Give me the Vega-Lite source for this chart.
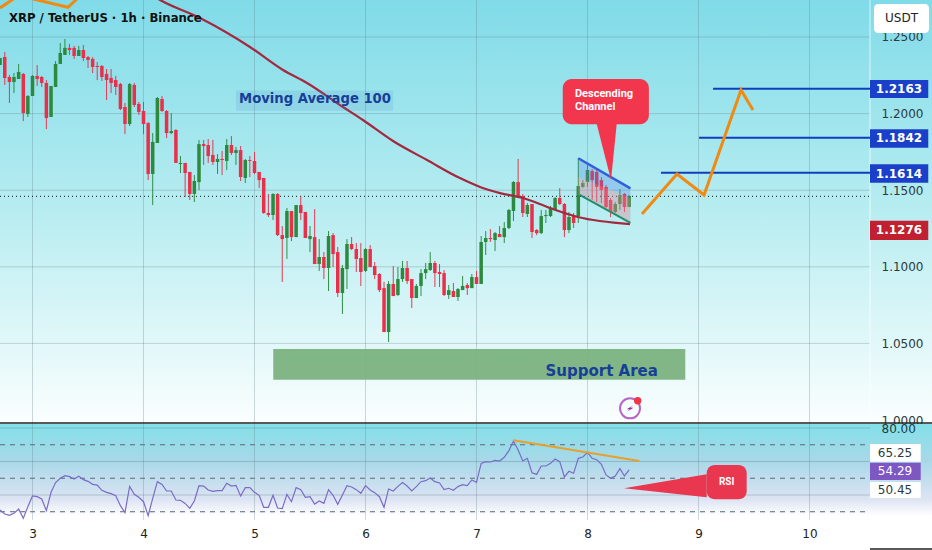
{
  "$schema": "https://vega.github.io/schema/vega-lite/v6.json",
  "padding": 0,
  "background": "#ffffff",
  "spacing": 0,
  "bounds": "flush",
  "resolve": {"scale": {"color": "independent"}},
  "config": {
    "font": "DejaVu Sans",
    "view": {"stroke": null},
    "axis": {"labelFont": "DejaVu Sans", "title": null}
  },
  "datasets": {
    "candles": [
      {"day":2.708,"o":1.2317,"h":1.2363,"l":1.2317,"c":1.2363},
      {"day":2.75,"o":1.2369,"h":1.2402,"l":1.2187,"c":1.2233},
      {"day":2.792,"o":1.2239,"h":1.2252,"l":1.2069,"c":1.2206},
      {"day":2.833,"o":1.2206,"h":1.2265,"l":1.2134,"c":1.2239},
      {"day":2.875,"o":1.2226,"h":1.2324,"l":1.2226,"c":1.2272},
      {"day":2.917,"o":1.2259,"h":1.2265,"l":1.1951,"c":1.2004},
      {"day":2.958,"o":1.1997,"h":1.2121,"l":1.1978,"c":1.2115},
      {"day":3,"o":1.2115,"h":1.2252,"l":1.2115,"c":1.2246},
      {"day":3.042,"o":1.2246,"h":1.2317,"l":1.218,"c":1.2226},
      {"day":3.083,"o":1.2239,"h":1.2246,"l":1.2174,"c":1.22},
      {"day":3.125,"o":1.22,"h":1.2219,"l":1.1899,"c":1.1971},
      {"day":3.167,"o":1.1978,"h":1.218,"l":1.1978,"c":1.218},
      {"day":3.208,"o":1.2174,"h":1.2343,"l":1.2174,"c":1.2324},
      {"day":3.25,"o":1.2324,"h":1.2461,"l":1.2324,"c":1.2396},
      {"day":3.292,"o":1.2383,"h":1.2487,"l":1.2383,"c":1.2429},
      {"day":3.333,"o":1.2429,"h":1.2455,"l":1.2383,"c":1.2415},
      {"day":3.375,"o":1.2429,"h":1.2442,"l":1.2357,"c":1.2376},
      {"day":3.417,"o":1.2376,"h":1.2442,"l":1.2376,"c":1.2415},
      {"day":3.458,"o":1.2415,"h":1.2448,"l":1.2343,"c":1.2363},
      {"day":3.5,"o":1.2369,"h":1.2376,"l":1.2298,"c":1.235},
      {"day":3.542,"o":1.2357,"h":1.2369,"l":1.2265,"c":1.2304},
      {"day":3.583,"o":1.2311,"h":1.2337,"l":1.2219,"c":1.2304},
      {"day":3.625,"o":1.2311,"h":1.2317,"l":1.2213,"c":1.2239},
      {"day":3.667,"o":1.2259,"h":1.2291,"l":1.2089,"c":1.2219},
      {"day":3.708,"o":1.2233,"h":1.2291,"l":1.2134,"c":1.22},
      {"day":3.75,"o":1.2219,"h":1.2246,"l":1.2121,"c":1.2174},
      {"day":3.792,"o":1.2193,"h":1.22,"l":1.2023,"c":1.203},
      {"day":3.833,"o":1.2043,"h":1.2069,"l":1.1866,"c":1.1932},
      {"day":3.875,"o":1.1932,"h":1.22,"l":1.1919,"c":1.2193},
      {"day":3.917,"o":1.2187,"h":1.22,"l":1.2043,"c":1.2056},
      {"day":3.958,"o":1.2063,"h":1.2076,"l":1.1991,"c":1.2011},
      {"day":4,"o":1.2017,"h":1.2076,"l":1.1866,"c":1.1932},
      {"day":4.042,"o":1.1938,"h":1.1945,"l":1.1566,"c":1.1606},
      {"day":4.083,"o":1.1606,"h":1.1873,"l":1.1403,"c":1.1815},
      {"day":4.125,"o":1.1808,"h":1.2108,"l":1.1808,"c":1.2102},
      {"day":4.167,"o":1.2095,"h":1.2115,"l":1.2011,"c":1.2017},
      {"day":4.208,"o":1.2017,"h":1.2023,"l":1.184,"c":1.1873},
      {"day":4.25,"o":1.1873,"h":1.2004,"l":1.1866,"c":1.1886},
      {"day":4.292,"o":1.1893,"h":1.1899,"l":1.1678,"c":1.1678},
      {"day":4.333,"o":1.1671,"h":1.1723,"l":1.1612,"c":1.1678},
      {"day":4.375,"o":1.1678,"h":1.1678,"l":1.1455,"c":1.1612},
      {"day":4.417,"o":1.1619,"h":1.1619,"l":1.1436,"c":1.1475},
      {"day":4.458,"o":1.1475,"h":1.1599,"l":1.1423,"c":1.156},
      {"day":4.5,"o":1.1553,"h":1.1828,"l":1.1501,"c":1.1801},
      {"day":4.542,"o":1.1801,"h":1.1828,"l":1.1665,"c":1.1788},
      {"day":4.583,"o":1.1795,"h":1.1834,"l":1.1678,"c":1.1723},
      {"day":4.625,"o":1.173,"h":1.1828,"l":1.1665,"c":1.1684},
      {"day":4.667,"o":1.1684,"h":1.1736,"l":1.1606,"c":1.1704},
      {"day":4.708,"o":1.1704,"h":1.1756,"l":1.1599,"c":1.1697},
      {"day":4.75,"o":1.1691,"h":1.1834,"l":1.1632,"c":1.1795},
      {"day":4.792,"o":1.1795,"h":1.1853,"l":1.173,"c":1.1743},
      {"day":4.833,"o":1.1743,"h":1.1782,"l":1.1665,"c":1.1762},
      {"day":4.875,"o":1.1762,"h":1.1788,"l":1.156,"c":1.1586},
      {"day":4.917,"o":1.158,"h":1.1704,"l":1.1547,"c":1.1697},
      {"day":4.958,"o":1.1697,"h":1.1723,"l":1.1586,"c":1.1691},
      {"day":5,"o":1.1691,"h":1.1749,"l":1.1606,"c":1.1612},
      {"day":5.042,"o":1.1619,"h":1.1619,"l":1.1514,"c":1.1566},
      {"day":5.083,"o":1.158,"h":1.158,"l":1.1345,"c":1.1351},
      {"day":5.125,"o":1.1351,"h":1.1475,"l":1.1325,"c":1.1338},
      {"day":5.167,"o":1.1338,"h":1.1481,"l":1.1305,"c":1.1475},
      {"day":5.208,"o":1.1475,"h":1.1481,"l":1.1201,"c":1.1207},
      {"day":5.25,"o":1.1207,"h":1.1266,"l":1.0901,"c":1.1181},
      {"day":5.292,"o":1.1188,"h":1.1384,"l":1.1051,"c":1.1364},
      {"day":5.333,"o":1.1364,"h":1.1364,"l":1.1168,"c":1.1194},
      {"day":5.375,"o":1.1194,"h":1.1403,"l":1.1194,"c":1.1403},
      {"day":5.417,"o":1.1403,"h":1.1462,"l":1.1305,"c":1.1351},
      {"day":5.458,"o":1.1358,"h":1.1358,"l":1.1188,"c":1.1188},
      {"day":5.5,"o":1.1181,"h":1.1266,"l":1.1096,"c":1.1201},
      {"day":5.542,"o":1.1194,"h":1.1377,"l":1.1018,"c":1.1018},
      {"day":5.583,"o":1.1018,"h":1.1181,"l":1.0973,"c":1.1064},
      {"day":5.625,"o":1.1064,"h":1.1096,"l":1.092,"c":1.0992},
      {"day":5.667,"o":1.0992,"h":1.1233,"l":1.0842,"c":1.1201},
      {"day":5.708,"o":1.1207,"h":1.122,"l":1.0998,"c":1.1083},
      {"day":5.75,"o":1.1096,"h":1.1129,"l":1.0803,"c":1.0829},
      {"day":5.792,"o":1.0829,"h":1.1012,"l":1.0692,"c":1.0992},
      {"day":5.833,"o":1.0985,"h":1.1181,"l":1.0855,"c":1.1149},
      {"day":5.875,"o":1.1149,"h":1.1194,"l":1.1109,"c":1.1116},
      {"day":5.917,"o":1.1116,"h":1.1155,"l":1.0966,"c":1.1051},
      {"day":5.958,"o":1.1057,"h":1.1155,"l":1.0875,"c":1.0966},
      {"day":6,"o":1.0973,"h":1.1122,"l":1.0966,"c":1.1116},
      {"day":6.042,"o":1.1116,"h":1.1142,"l":1.0998,"c":1.0998},
      {"day":6.083,"o":1.1005,"h":1.1031,"l":1.092,"c":1.0946},
      {"day":6.125,"o":1.0953,"h":1.0959,"l":1.0835,"c":1.0848},
      {"day":6.167,"o":1.0861,"h":1.0901,"l":1.0574,"c":1.0574},
      {"day":6.208,"o":1.0574,"h":1.0907,"l":1.0509,"c":1.0888},
      {"day":6.25,"o":1.0888,"h":1.1005,"l":1.0809,"c":1.0809},
      {"day":6.292,"o":1.0816,"h":1.0998,"l":1.0809,"c":1.092},
      {"day":6.333,"o":1.092,"h":1.1038,"l":1.0901,"c":1.0992},
      {"day":6.375,"o":1.0992,"h":1.1038,"l":1.0888,"c":1.0907},
      {"day":6.417,"o":1.092,"h":1.092,"l":1.0731,"c":1.0796},
      {"day":6.458,"o":1.0796,"h":1.0888,"l":1.0796,"c":1.0875},
      {"day":6.5,"o":1.0875,"h":1.0985,"l":1.0809,"c":1.0959},
      {"day":6.542,"o":1.0959,"h":1.1025,"l":1.092,"c":1.0985},
      {"day":6.583,"o":1.0979,"h":1.1096,"l":1.0973,"c":1.1025},
      {"day":6.625,"o":1.1025,"h":1.1038,"l":1.0868,"c":1.0959},
      {"day":6.667,"o":1.0966,"h":1.1018,"l":1.0868,"c":1.0953},
      {"day":6.708,"o":1.0959,"h":1.0979,"l":1.0809,"c":1.0816},
      {"day":6.75,"o":1.0816,"h":1.0881,"l":1.079,"c":1.0848},
      {"day":6.792,"o":1.0842,"h":1.0894,"l":1.0803,"c":1.0803},
      {"day":6.833,"o":1.0803,"h":1.0861,"l":1.0777,"c":1.0855},
      {"day":6.875,"o":1.0848,"h":1.094,"l":1.0848,"c":1.0875},
      {"day":6.917,"o":1.0881,"h":1.0894,"l":1.0816,"c":1.0861},
      {"day":6.958,"o":1.0861,"h":1.0953,"l":1.0861,"c":1.0933},
      {"day":7,"o":1.0933,"h":1.0973,"l":1.0888,"c":1.0888},
      {"day":7.042,"o":1.0888,"h":1.1201,"l":1.0888,"c":1.1162},
      {"day":7.083,"o":1.1162,"h":1.1233,"l":1.1077,"c":1.1188},
      {"day":7.125,"o":1.1188,"h":1.1246,"l":1.1162,"c":1.1181},
      {"day":7.167,"o":1.1175,"h":1.1227,"l":1.1103,"c":1.122},
      {"day":7.208,"o":1.1214,"h":1.1266,"l":1.1194,"c":1.1194},
      {"day":7.25,"o":1.1194,"h":1.1292,"l":1.1155,"c":1.1253},
      {"day":7.292,"o":1.1253,"h":1.1377,"l":1.1246,"c":1.1371},
      {"day":7.333,"o":1.1364,"h":1.156,"l":1.1299,"c":1.1553},
      {"day":7.375,"o":1.1553,"h":1.1704,"l":1.1455,"c":1.1455},
      {"day":7.417,"o":1.1462,"h":1.1475,"l":1.1325,"c":1.1351},
      {"day":7.458,"o":1.1345,"h":1.1416,"l":1.1325,"c":1.1403},
      {"day":7.5,"o":1.141,"h":1.141,"l":1.1188,"c":1.1227},
      {"day":7.542,"o":1.124,"h":1.1246,"l":1.1207,"c":1.122},
      {"day":7.583,"o":1.122,"h":1.1371,"l":1.1214,"c":1.1331},
      {"day":7.625,"o":1.1331,"h":1.1371,"l":1.1286,"c":1.1338},
      {"day":7.667,"o":1.1331,"h":1.1397,"l":1.1325,"c":1.1384},
      {"day":7.708,"o":1.1371,"h":1.1455,"l":1.1371,"c":1.1449},
      {"day":7.75,"o":1.1449,"h":1.1514,"l":1.1403,"c":1.141},
      {"day":7.792,"o":1.141,"h":1.1416,"l":1.1194,"c":1.124},
      {"day":7.833,"o":1.124,"h":1.1358,"l":1.122,"c":1.1325},
      {"day":7.875,"o":1.1331,"h":1.1351,"l":1.1253,"c":1.1286},
      {"day":7.917,"o":1.1331,"h":1.171,"l":1.1286,"c":1.1527},
      {"day":7.958,"o":1.1521,"h":1.1566,"l":1.1514,"c":1.1547},
      {"day":8,"o":1.1553,"h":1.1665,"l":1.1521,"c":1.1632},
      {"day":8.042,"o":1.1625,"h":1.1638,"l":1.1436,"c":1.1566},
      {"day":8.083,"o":1.1619,"h":1.1632,"l":1.1423,"c":1.1521},
      {"day":8.125,"o":1.1566,"h":1.1586,"l":1.1416,"c":1.1501},
      {"day":8.167,"o":1.1521,"h":1.1534,"l":1.1384,"c":1.139},
      {"day":8.208,"o":1.1436,"h":1.1449,"l":1.1325,"c":1.1358},
      {"day":8.25,"o":1.1358,"h":1.1423,"l":1.1351,"c":1.141},
      {"day":8.292,"o":1.141,"h":1.1507,"l":1.1371,"c":1.1468},
      {"day":8.333,"o":1.1475,"h":1.1481,"l":1.1358,"c":1.139},
      {"day":8.375,"o":1.139,"h":1.1468,"l":1.139,"c":1.1462}
    ],
    "rsi": [
      {"day":2.708,"rsi":31.05},{"day":2.75,"rsi":28.65},{"day":2.792,"rsi":27.85},{"day":2.833,"rsi":29.05},{"day":2.875,"rsi":31.65},{"day":2.917,"rsi":26.05},{"day":2.958,"rsi":33.05},
      {"day":3,"rsi":39.4},{"day":3.042,"rsi":39},{"day":3.083,"rsi":37.6},{"day":3.125,"rsi":30.65},{"day":3.167,"rsi":41.6},{"day":3.208,"rsi":47.4},{"day":3.25,"rsi":50},{"day":3.292,"rsi":51.55},{"day":3.333,"rsi":50.95},{"day":3.375,"rsi":49.55},{"day":3.417,"rsi":51.15},{"day":3.458,"rsi":49.15},{"day":3.5,"rsi":48.15},{"day":3.542,"rsi":46.35},{"day":3.583,"rsi":45.95},{"day":3.625,"rsi":42.8},{"day":3.667,"rsi":41.6},{"day":3.708,"rsi":40.8},{"day":3.75,"rsi":39.6},{"day":3.792,"rsi":33.65},{"day":3.833,"rsi":29.45},{"day":3.875,"rsi":45.15},{"day":3.917,"rsi":40.4},{"day":3.958,"rsi":38.6},
      {"day":4,"rsi":36},{"day":4.042,"rsi":27.65},{"day":4.083,"rsi":38},{"day":4.125,"rsi":47.95},{"day":4.167,"rsi":46.35},{"day":4.208,"rsi":42.4},{"day":4.25,"rsi":42.4},{"day":4.292,"rsi":37},{"day":4.333,"rsi":36.8},{"day":4.375,"rsi":35},{"day":4.417,"rsi":32.05},{"day":4.458,"rsi":36.4},{"day":4.5,"rsi":45.6},{"day":4.542,"rsi":45.35},{"day":4.583,"rsi":43},{"day":4.625,"rsi":42.2},{"day":4.667,"rsi":42.6},{"day":4.708,"rsi":42.6},{"day":4.75,"rsi":47},{"day":4.792,"rsi":45.35},{"day":4.833,"rsi":45.75},{"day":4.875,"rsi":39.4},{"day":4.917,"rsi":44.4},{"day":4.958,"rsi":44.4},
      {"day":5,"rsi":41.6},{"day":5.042,"rsi":39.8},{"day":5.083,"rsi":32.65},{"day":5.125,"rsi":32.65},{"day":5.167,"rsi":39.8},{"day":5.208,"rsi":32.25},{"day":5.25,"rsi":31.85},{"day":5.292,"rsi":40.4},{"day":5.333,"rsi":36},{"day":5.375,"rsi":44.4},{"day":5.417,"rsi":43.2},{"day":5.458,"rsi":38.6},{"day":5.5,"rsi":39},{"day":5.542,"rsi":34.6},{"day":5.583,"rsi":36.4},{"day":5.625,"rsi":35},{"day":5.667,"rsi":43.2},{"day":5.708,"rsi":39.8},{"day":5.75,"rsi":34.4},{"day":5.792,"rsi":40},{"day":5.833,"rsi":45.6},{"day":5.875,"rsi":44.8},{"day":5.917,"rsi":43.2},{"day":5.958,"rsi":41},
      {"day":6,"rsi":45.6},{"day":6.042,"rsi":43},{"day":6.083,"rsi":41.4},{"day":6.125,"rsi":39},{"day":6.167,"rsi":32.65},{"day":6.208,"rsi":43.6},{"day":6.25,"rsi":42.4},{"day":6.292,"rsi":45.15},{"day":6.333,"rsi":47.4},{"day":6.375,"rsi":45.35},{"day":6.417,"rsi":42.4},{"day":6.458,"rsi":45},{"day":6.5,"rsi":47.95},{"day":6.542,"rsi":48.55},{"day":6.583,"rsi":50.15},{"day":6.625,"rsi":47.95},{"day":6.667,"rsi":47.15},{"day":6.708,"rsi":43.2},{"day":6.75,"rsi":44},{"day":6.792,"rsi":42.8},{"day":6.833,"rsi":45},{"day":6.875,"rsi":46.2},{"day":6.917,"rsi":45.6},{"day":6.958,"rsi":49},
      {"day":7,"rsi":47.55},{"day":7.042,"rsi":58.9},{"day":7.083,"rsi":59.9},{"day":7.125,"rsi":59.7},{"day":7.167,"rsi":60.7},{"day":7.208,"rsi":60.3},{"day":7.25,"rsi":62.5},{"day":7.292,"rsi":66.5},{"day":7.333,"rsi":72.25},{"day":7.375,"rsi":66.9},{"day":7.417,"rsi":60.3},{"day":7.458,"rsi":61.9},{"day":7.5,"rsi":53.3},{"day":7.542,"rsi":52.3},{"day":7.583,"rsi":57.3},{"day":7.625,"rsi":57.3},{"day":7.667,"rsi":58.9},{"day":7.708,"rsi":61.5},{"day":7.75,"rsi":59.9},{"day":7.792,"rsi":50.75},{"day":7.833,"rsi":54.15},{"day":7.875,"rsi":52.95},{"day":7.917,"rsi":61.9},{"day":7.958,"rsi":62.7},
      {"day":8,"rsi":65.5},{"day":8.042,"rsi":61.9},{"day":8.083,"rsi":61.1},{"day":8.125,"rsi":58.3},{"day":8.167,"rsi":51.95},{"day":8.208,"rsi":50},{"day":8.25,"rsi":51.35},{"day":8.292,"rsi":55.7},{"day":8.333,"rsi":51.35},{"day":8.375,"rsi":54.95}
    ]
  },
  "vconcat": [
    {
      "width": 932,
      "height": 424,
      "view": {
        "stroke": null,
        "fill": {
          "gradient": "linear", "x1": 0, "y1": 0, "x2": 0, "y2": 1,
          "stops": [
            {"offset": 0, "color": "#80dbe8"},
            {"offset": 0.5, "color": "#b8edf1"},
            {"offset": 1, "color": "#fbfefe"}
          ]
        }
      },
      "encoding": {
        "x": {"field": "day", "type": "quantitative", "scale": {"domain": [2.7072, 11.1036], "nice": false, "zero": false, "padding": 0}, "axis": null},
        "y": {
          "field": "price", "type": "quantitative",
          "scale": {"domain": [0.99739, 1.27415], "nice": false, "zero": false},
          "axis": {"orient": "right", "offset": -62, "values": [1, 1.05, 1.1, 1.15, 1.2, 1.25], "format": ".4f", "domain": false, "ticks": false, "grid": false, "labelPadding": 11, "labelFontSize": 12, "labelColor": "#2c3a40", "labelOverlap": false, "labelBound": false, "labelFlush": false, "title": null}
        }
      },
      "layer": [
        {
          "data": {"values": [{"price":1.25,"day":2.7072},{"price":1.2,"day":2.7072},{"price":1.15,"day":2.7072},{"price":1.1,"day":2.7072},{"price":1.05,"day":2.7072}]},
          "mark": {"type": "rule", "color": "#5f7f88", "opacity": 0.3, "strokeWidth": 1, "clip": true},
          "encoding": {"x2": {"datum": 10.545}}
        },
        {
          "data": {"values": [{"day":3,"price":1.27415},{"day":4,"price":1.27415},{"day":5,"price":1.27415},{"day":6,"price":1.27415},{"day":7,"price":1.27415},{"day":8,"price":1.27415},{"day":9,"price":1.27415},{"day":10,"price":1.27415}]},
          "mark": {"type": "rule", "color": "#5f7f88", "opacity": 0.3, "strokeWidth": 1, "clip": true},
          "encoding": {"y2": {"datum": 0.99739}}
        },
        {
          "data": {"values": [{"day":10.545,"price":1.27415}]},
          "mark": {"type": "rule", "color": "#ffffff", "opacity": 0.7, "strokeWidth": 1, "clip": true},
          "encoding": {"y2": {"datum": 0.99739}}
        },
        {
          "data": {"values": [{"price":1.146,"day":2.7072}]},
          "mark": {"type": "rule", "color": "#111111", "strokeDash": [1, 3], "strokeWidth": 1, "clip": true},
          "encoding": {"x2": {"datum": 10.545}}
        },
        {
          "data": {"values": [{"day":5.169,"end":8.881,"price":1.0463,"lo":1.0263}]},
          "mark": {"type": "rect", "color": "#78b07c", "opacity": 0.92},
          "encoding": {"x2": {"field": "end"}, "y2": {"field": "lo"}}
        },
        {
          "data": {"name": "candles"},
          "mark": {"type": "rule", "strokeWidth": 1, "clip": true},
          "encoding": {
            "y": {"field": "h", "type": "quantitative", "scale": {"domain": [0.99739, 1.27415], "nice": false, "zero": false}},
            "y2": {"field": "l"},
            "color": {"condition": {"test": "datum.c >= datum.o", "value": "#2f8f44"}, "value": "#e33a52"}
          }
        },
        {
          "data": {"name": "candles"},
          "mark": {"type": "bar", "size": 3.5, "clip": true},
          "encoding": {
            "y": {"field": "o", "type": "quantitative", "scale": {"domain": [0.99739, 1.27415], "nice": false, "zero": false}},
            "y2": {"field": "c"},
            "color": {"condition": {"test": "datum.c >= datum.o", "value": "#2b8a3e"}, "value": "#e9304a"}
          }
        },
        {
          "data": {"values": [
            {"day":4.104,"price":1.2761},{"day":4.149,"price":1.2742},{"day":4.509,"price":1.2624},{"day":4.959,"price":1.2435},{"day":5.257,"price":1.2285},{"day":5.473,"price":1.22},{"day":5.797,"price":1.2043},{"day":5.977,"price":1.1958},{"day":6.248,"price":1.1821},{"day":6.554,"price":1.1697},{"day":6.851,"price":1.1579},{"day":7.032,"price":1.1521},{"day":7.212,"price":1.1481},{"day":7.419,"price":1.1449},{"day":7.662,"price":1.1384},{"day":7.914,"price":1.1325},{"day":8.383,"price":1.1279}
          ]},
          "mark": {"type": "line", "color": "#a3293f", "strokeWidth": 2.2, "interpolate": "monotone", "clip": true}
        },
        {
          "data": {"values": [{"day":7.917,"price":1.1708,"lo":1.1586},{"day":8.387,"price":1.1512,"lo":1.1449}]},
          "mark": {"type": "area", "color": "#4f80e6", "opacity": 0.3},
          "encoding": {"y2": {"field": "lo"}}
        },
        {
          "data": {"values": [{"day":7.917,"price":1.1586,"lo":1.1469},{"day":8.387,"price":1.1449,"lo":1.1286}]},
          "mark": {"type": "area", "color": "#d98a98", "opacity": 0.4},
          "encoding": {"y2": {"field": "lo"}}
        },
        {
          "data": {"values": [{"day":7.917,"price":1.1708},{"day":8.387,"price":1.1512}]},
          "mark": {"type": "line", "color": "#2f5fdc", "strokeWidth": 2.4}
        },
        {
          "data": {"values": [{"day":7.93,"price":1.1469},{"day":8.387,"price":1.1286}]},
          "mark": {"type": "line", "color": "#1f8f6c", "strokeWidth": 2}
        },
        {
          "data": {"values": [{"price":1.2163,"day":9.131},{"price":1.1842,"day":9.005},{"price":1.1614,"day":8.662}]},
          "mark": {"type": "rule", "color": "#0f3fbf", "strokeWidth": 2},
          "encoding": {"x2": {"datum": 10.545}}
        },
        {
          "data": {"values": [{"day":8.491,"price":1.1345},{"day":8.806,"price":1.1606},{"day":9.05,"price":1.1469},{"day":9.383,"price":1.2154},{"day":9.491,"price":1.2023}]},
          "mark": {"type": "line", "color": "#f08a12", "strokeWidth": 3}
        },
        {
          "data": {"values": [{"day":2.7072,"price":1.269},{"day":2.869,"price":1.2768},{"day":2.932,"price":1.2761},{"day":3.32,"price":1.2694},{"day":3.428,"price":1.2768}]},
          "mark": {"type": "line", "color": "#f08a12", "strokeWidth": 3, "clip": true}
        },
        {
          "data": {"values": [{"day":7.777,"end":8.553,"price":1.2226,"lo":1.193}]},
          "mark": {"type": "rect", "color": "#f2364d", "cornerRadius": 9},
          "encoding": {"x2": {"field": "end"}, "y2": {"field": "lo"}}
        },
        {
          "data": {"values": [{"day":8.083,"price":1.1932,"lo":1.1932},{"day":8.212,"price":1.1932,"lo":1.1566},{"day":8.263,"price":1.1932,"lo":1.1932}]},
          "mark": {"type": "area", "color": "#f2364d"},
          "encoding": {"y2": {"field": "lo"}}
        },
        {
          "data": {"values": [{"day":4.833,"end":6.248,"price":1.215,"lo":1.2019}]},
          "mark": {"type": "rect", "color": "#4682c8", "opacity": 0.14},
          "encoding": {"x2": {"field": "end"}, "y2": {"field": "lo"}}
        },
        {
          "data": {"values": [{"day":10.581,"end":11.077,"price":1.2716,"lo":1.2526}]},
          "mark": {"type": "rect", "color": "#ffffff", "cornerRadius": 4},
          "encoding": {"x2": {"field": "end"}, "y2": {"field": "lo"}}
        },
        {
          "data": {"values": [
            {"kind":"target","label":"1.2163","day":10.545,"end":11.07,"price":1.2219,"lo":1.2102,"mid":1.2161},
            {"kind":"target","label":"1.1842","day":10.545,"end":11.07,"price":1.1898,"lo":1.1777,"mid":1.1838},
            {"kind":"target","label":"1.1614","day":10.545,"end":11.07,"price":1.1669,"lo":1.1549,"mid":1.1609},
            {"kind":"last","label":"1.1276","day":10.545,"end":11.07,"price":1.13,"lo":1.1175,"mid":1.1238}
          ]},
          "layer": [
            {
              "mark": {"type": "rect"},
              "encoding": {
                "x2": {"field": "end"},
                "y2": {"field": "lo"},
                "color": {"field": "kind", "type": "nominal", "scale": {"domain": ["target", "last"], "range": ["#1a3fc8", "#c0202f"]}, "legend": null}
              }
            },
            {
              "mark": {"type": "text", "color": "#ffffff", "fontWeight": "bold", "fontSize": 12, "align": "center", "baseline": "middle", "dx": 29},
              "encoding": {
                "y": {"field": "mid", "type": "quantitative", "scale": {"domain": [0.99739, 1.27415], "nice": false, "zero": false}},
                "text": {"field": "label"}
              }
            }
          ]
        },
        {
          "data": {"values": [{"day":2.788,"price":1.2624,"label":"XRP / TetherUS · 1h · Binance"}]},
          "mark": {"type": "text", "color": "#111111", "fontWeight": "bold", "fontSize": 11.7, "align": "left", "baseline": "middle"},
          "encoding": {"text": {"field": "label"}}
        },
        {
          "data": {"values": [{"day":5.545,"price":1.2095,"label":"Moving Average 100"}]},
          "mark": {"type": "text", "color": "#163f98", "fontWeight": "bold", "fontSize": 13.2, "align": "center", "baseline": "middle"},
          "encoding": {"text": {"field": "label"}}
        },
        {
          "data": {"values": [{"day":8.128,"price":1.032,"label":"Support Area"}]},
          "mark": {"type": "text", "color": "#163f98", "fontWeight": "bold", "fontSize": 15, "align": "center", "baseline": "middle"},
          "encoding": {"text": {"field": "label"}}
        },
        {
          "data": {"values": [{"day":10.829,"price":1.2621,"label":"USDT"}]},
          "mark": {"type": "text", "color": "#222222", "fontSize": 12, "align": "center", "baseline": "middle"},
          "encoding": {"text": {"field": "label"}}
        },
        {
          "data": {"values": [{"day":7.887,"price":1.2125,"label":"Descending"},{"day":7.887,"price":1.2046,"label":"Channel"}]},
          "mark": {"type": "text", "color": "#ffffff", "font": "Roboto", "fontWeight": "bold", "fontSize": 11, "align": "left", "baseline": "middle"},
          "encoding": {"text": {"field": "label"}}
        },
        {
          "data": {"values": [{"day":8.383,"price":1.0076}]},
          "mark": {"type": "point", "filled": false, "stroke": "#9c27b0", "strokeWidth": 2, "size": 400}
        },
        {
          "data": {"values": [{"day":8.383,"price":1.0076}]},
          "mark": {"type": "point", "filled": true, "color": "#9c27b0", "opacity": 1, "size": 190, "shape": "M0.5,-0.45 L-0.5,0.12 L-0.05,0.12 L-0.4,0.45 L0.5,-0.1 L0.05,-0.1 Z"}
        },
        {
          "data": {"values": [{"day":8.452,"price":1.0126}]},
          "mark": {"type": "point", "filled": true, "color": "#f23645", "opacity": 1, "size": 55}
        },
        {
          "data": {"values": [{"price":0.9981,"day":2.7072}]},
          "mark": {"type": "rule", "color": "#222222", "strokeWidth": 1.5, "clip": true},
          "encoding": {"x2": {"datum": 11.1036}}
        }
      ]
    },
    {
      "width": 932,
      "height": 126,
      "view": {
        "stroke": null,
        "fill": {
          "gradient": "linear", "x1": 0, "y1": 0, "x2": 0, "y2": 1,
          "stops": [
            {"offset": 0, "color": "#82e0e8"},
            {"offset": 0.29, "color": "#a8d8e8"},
            {"offset": 0.6, "color": "#dde4f3"},
            {"offset": 0.73, "color": "#ffffff"},
            {"offset": 1, "color": "#ffffff"}
          ]
        }
      },
      "encoding": {
        "x": {
          "field": "day", "type": "quantitative",
          "scale": {"domain": [2.7072, 11.1036], "nice": false, "zero": false, "padding": 0},
          "axis": {"orient": "bottom", "offset": -30, "values": [3, 4, 5, 6, 7, 8, 9, 10], "format": "d", "domain": false, "ticks": false, "grid": false, "labelPadding": 8, "labelFontSize": 12, "labelColor": "#222222", "labelOverlap": false, "labelFlush": false, "title": null}
        },
        "y": {
          "field": "rsi", "type": "quantitative",
          "scale": {"domain": [7.16, 82.39], "nice": false, "zero": false},
          "axis": {"orient": "right", "offset": -62, "values": [80], "format": ".2f", "domain": false, "ticks": false, "grid": false, "labelPadding": 11, "labelFontSize": 12, "labelColor": "#1d3a44", "labelOverlap": false, "labelBound": false, "labelFlush": false, "title": null}
        }
      },
      "layer": [
        {
          "data": {"values": [{"rsi":80,"day":2.7072},{"rsi":60,"day":2.7072},{"rsi":40,"day":2.7072}]},
          "mark": {"type": "rule", "color": "#5f7f88", "opacity": 0.35, "strokeWidth": 1, "clip": true},
          "encoding": {"x2": {"datum": 10.545}}
        },
        {
          "data": {"values": [{"rsi":70,"day":2.7072},{"rsi":50,"day":2.7072},{"rsi":30,"day":2.7072}]},
          "mark": {"type": "rule", "color": "#5a6878", "strokeWidth": 1, "strokeDash": [5, 5], "clip": true},
          "encoding": {"x2": {"datum": 10.545}}
        },
        {
          "data": {"values": [{"day":3,"rsi":82.39},{"day":4,"rsi":82.39},{"day":5,"rsi":82.39},{"day":6,"rsi":82.39},{"day":7,"rsi":82.39},{"day":8,"rsi":82.39},{"day":9,"rsi":82.39},{"day":10,"rsi":82.39}]},
          "mark": {"type": "rule", "color": "#5f7f88", "opacity": 0.3, "strokeWidth": 1, "clip": true},
          "encoding": {"y2": {"datum": 25.1}}
        },
        {
          "data": {"name": "rsi"},
          "mark": {"type": "line", "color": "#7a6cc6", "strokeWidth": 1.2, "clip": true}
        },
        {
          "data": {"values": [{"day":7.331,"rsi":72.65},{"day":8.467,"rsi":60.3}]},
          "mark": {"type": "line", "color": "#e8a02c", "strokeWidth": 2}
        },
        {
          "data": {"values": [{"day":8.329,"rsi":44,"lo":44},{"day":9.074,"rsi":52.36,"lo":38.63}]},
          "mark": {"type": "area", "color": "#e8374f"},
          "encoding": {"y2": {"field": "lo"}}
        },
        {
          "data": {"values": [{"day":9.074,"end":9.434,"rsi":57.91,"lo":37.43}]},
          "mark": {"type": "rect", "color": "#e8374f", "cornerRadius": 8},
          "encoding": {"x2": {"field": "end"}, "y2": {"field": "lo"}}
        },
        {
          "data": {"values": [{"day":9.254,"rsi":47.94,"label":"RSI"}]},
          "mark": {"type": "text", "color": "#ffffff", "font": "Roboto", "fontWeight": "bold", "fontSize": 10, "align": "center", "baseline": "middle"},
          "encoding": {"text": {"field": "label"}}
        },
        {
          "data": {"values": [
            {"kind":"plain","label":"65.25","day":10.545,"end":11.002,"rsi":70.45,"lo":59.88,"mid":65.07},
            {"kind":"rsi","label":"54.29","day":10.545,"end":11.002,"rsi":59.28,"lo":48.96,"mid":54.03},
            {"kind":"plain","label":"50.45","day":10.545,"end":11.002,"rsi":47.76,"lo":38.2,"mid":42.99}
          ]},
          "layer": [
            {
              "mark": {"type": "rect"},
              "encoding": {
                "x2": {"field": "end"},
                "y2": {"field": "lo"},
                "color": {"field": "kind", "type": "nominal", "scale": {"domain": ["plain", "rsi"], "range": ["#ffffff", "#7e57c2"]}, "legend": null}
              }
            },
            {
              "mark": {"type": "text", "fontSize": 12, "align": "center", "baseline": "middle", "dx": 25},
              "encoding": {
                "y": {"field": "mid", "type": "quantitative", "scale": {"domain": [7.16, 82.39], "nice": false, "zero": false}},
                "text": {"field": "label"},
                "color": {"condition": {"test": "datum.kind === 'rsi'", "value": "#ffffff"}, "value": "#2c3a40"}
              }
            }
          ]
        },
        {
          "data": {"values": [{"rsi":7.76,"day":10.545}]},
          "mark": {"type": "rule", "color": "#222222", "strokeWidth": 1.5, "clip": true},
          "encoding": {"x2": {"datum": 11.1036}}
        }
      ]
    }
  ]
}
